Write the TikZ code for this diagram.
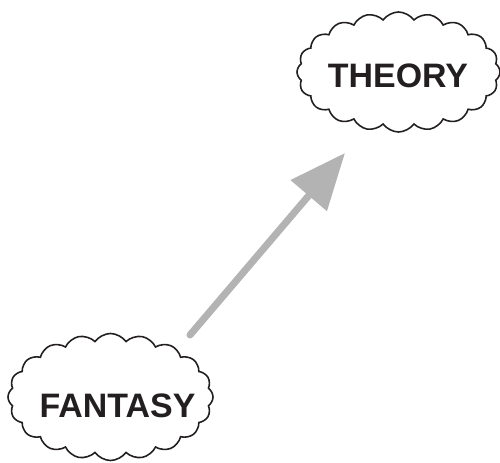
\documentclass[tikz,border=0pt]{standalone}
\usepackage{fontspec}
\setmainfont{Liberation Sans}
\usepackage{xcolor}
\usepackage{tikz}
\usetikzlibrary{shapes.symbols,arrows.meta}
\definecolor{ink}{HTML}{231F20}
\definecolor{arrowgray}{HTML}{B3B3B3}

\begin{document}
\begin{tikzpicture}[
    puff/.style={cloud, cloud puffs=20, cloud puff arc=110, cloud ignores aspect,
      draw=ink, line width=0.9pt, fill=white, inner sep=0pt},
    word/.style={anchor=base, inner sep=0pt,
      font=\fontsize{19.3}{21}\selectfont\bfseries, text=ink},
    leap/.style={draw=arrowgray, line width=4pt, line cap=round,
      -{Triangle[length=1.12cm,width=0.92cm]}}
  ]
  \useasboundingbox (0,0) rectangle (10,9.24);
  % clouds
  \node[puff, minimum width=4.06cm, minimum height=2.4cm] (theorycloud) at (7.97,7.8) {};
  \node[puff, minimum width=4.1cm, minimum height=2.54cm] (fantasycloud) at (2.21,1.3) {};
  % words
  \node[word] (theory) at (7.96,7.484) {THEORY};
  \node[word] (fantasy) at (2.35,0.9) {FANTASY};
  % arrow
  \coordinate (tail) at (3.8,2.54);
  \coordinate (tip) at (6.9,6.18);
  \draw[leap] (tail) -- (tip);
\end{tikzpicture}
\end{document}
